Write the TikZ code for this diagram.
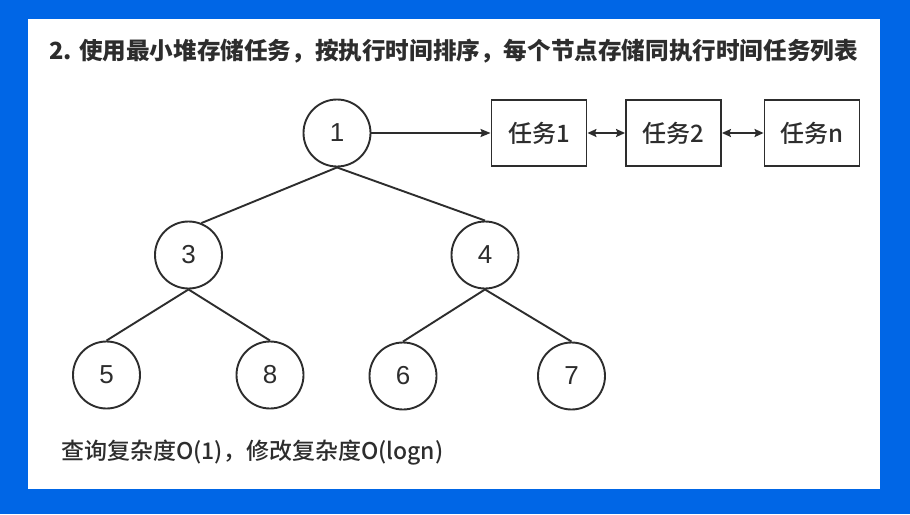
\documentclass[tikz,border=0pt]{standalone}
\usepackage{fontspec}
\setmainfont{Noto Sans CJK SC}
\newfontfamily\medfont{Noto Sans CJK SC Medium}
\newfontfamily\digitfont{Liberation Sans}
\usetikzlibrary{arrows.meta}
\definecolor{bgblue}{RGB}{0,102,230}
\definecolor{ink}{RGB}{45,45,45}
\tikzset{
  heapnode/.style={circle,draw=ink,line width=1.9pt,minimum size=67pt,inner sep=0pt,font=\digitfont\fontsize{26}{26}\selectfont,text=ink},
  taskbox/.style={rectangle,draw=ink,line width=1.9pt,minimum width=95pt,minimum height=66pt,inner sep=0pt,font=\medfont\fontsize{24}{24}\selectfont,text=ink},
  treeedge/.style={draw=ink,line width=1.9pt},
  linkarrow/.style={draw=ink,line width=1.7pt,-{Stealth[length=10pt,width=8pt,inset=1.5pt]}},
  dblarrow/.style={draw=ink,line width=1.7pt,{Stealth[length=9pt,width=8pt,inset=1.5pt]}-{Stealth[length=9pt,width=8pt,inset=1.5pt]}},
  caption/.style={anchor=west,inner sep=0pt,text=ink}
}
\begin{document}
\begin{tikzpicture}[x=1pt,y=-1pt]
\useasboundingbox (0,0) rectangle (910,514);
\fill[bgblue] (0,0) rectangle (910,514);
\fill[white] (28,19) rectangle (880,489);

\node[caption,font=\bfseries\fontsize{23.6}{24}\selectfont] (title) at (49,51) {2. 使用最小堆存储任务，按执行时间排序，每个节点存储同执行时间任务列表};

\node[heapnode] (n1) at (337,133) {1};
\node[heapnode] (n3) at (188.5,255) {3};
\node[heapnode] (n4) at (485,255) {4};
\node[heapnode] (n5) at (106.5,375) {5};
\node[heapnode] (n8) at (270,375) {8};
\node[heapnode] (n6) at (403,376) {6};
\node[heapnode] (n7) at (571.5,376) {7};

\node[taskbox] (t1) at (539,133) {任务1};
\node[taskbox] (t2) at (673.5,133) {任务2};
\node[taskbox] (tn) at (812,133) {任务n};

\draw[treeedge] (n1.south) -- (n3.68);
\draw[treeedge] (n1.south) -- (n4.north);
\draw[treeedge] (n3.south) -- (n5.north);
\draw[treeedge] (n3.south) -- (n8.north);
\draw[treeedge] (n4.south) -- (n6.north);
\draw[treeedge] (n4.south) -- (n7.north);

\draw[linkarrow] (n1.east) -- (t1.west);
\draw[dblarrow] (t1.east) -- (t2.west);
\draw[dblarrow] (t2.east) -- (tn.west);

\node[caption,font=\medfont\fontsize{23}{24}\selectfont] (cost) at (61,453) {查询复杂度O(1)，修改复杂度O(logn)};
\end{tikzpicture}
\end{document}
